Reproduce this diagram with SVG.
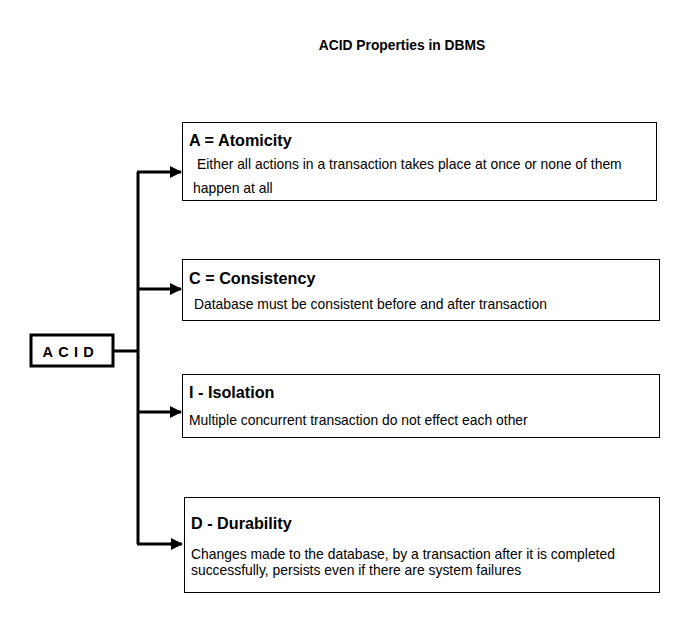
<svg xmlns="http://www.w3.org/2000/svg" width="698" height="628" viewBox="0 0 698 628">
<style>
text{font-family:"Liberation Sans",Arial,sans-serif;fill:#000}
.h{font-weight:bold;font-size:16.2px}
.b{font-size:13.9px}
.box{fill:#fff;stroke:#000;stroke-width:1}
.con{fill:none;stroke:#000;stroke-width:3}
</style>
<defs>
<marker id="ah" markerWidth="12" markerHeight="12" refX="11" refY="6" orient="auto" markerUnits="userSpaceOnUse">
<path d="M0,0 L12,6 L0,12 Z" fill="#000"/>
</marker>
</defs>
<rect width="698" height="628" fill="#fff"/>
<text x="402" y="50" text-anchor="middle" font-weight="bold" font-size="13.8">ACID Properties in DBMS</text>
<g id="connectors">
<path class="con" d="M114,351 H138"/>
<path class="con" d="M138,172 V544"/>
<path class="con" d="M137,172 H181" marker-end="url(#ah)"/>
<path class="con" d="M137,289 H181" marker-end="url(#ah)"/>
<path class="con" d="M137,412 H181" marker-end="url(#ah)"/>
<path class="con" d="M137,544 H182" marker-end="url(#ah)"/>
</g>
<g id="acid">
<rect x="31" y="335" width="82" height="31" fill="#fff" stroke="#000" stroke-width="3"/>
<text x="42.5" y="357" font-weight="bold" font-size="14.5" letter-spacing="5.3">ACID</text>
</g>
<g id="atomicity">
<rect class="box" x="182.5" y="122.5" width="474" height="78"/>
<text class="h" x="189" y="146">A = Atomicity</text>
<text class="b" x="197" y="169">Either all actions in a transaction takes place at once or none of them</text>
<text class="b" x="193" y="193">happen at all</text>
</g>
<g id="consistency">
<rect class="box" x="182.5" y="259.5" width="477" height="61"/>
<text class="h" x="189" y="284">C = Consistency</text>
<text class="b" x="194" y="309">Database must be consistent before and after transaction</text>
</g>
<g id="isolation">
<rect class="box" x="182.5" y="374.5" width="477" height="63"/>
<text class="h" x="189" y="398">I - Isolation</text>
<text class="b" x="189" y="425">Multiple concurrent transaction do not effect each other</text>
</g>
<g id="durability">
<rect class="box" x="184.5" y="497.5" width="475" height="95"/>
<text class="h" x="191" y="529">D - Durability</text>
<text class="b" x="191" y="559">Changes made to the database, by a transaction after it is completed</text>
<text class="b" x="191" y="575">successfully, persists even if there are system failures</text>
</g>
</svg>
